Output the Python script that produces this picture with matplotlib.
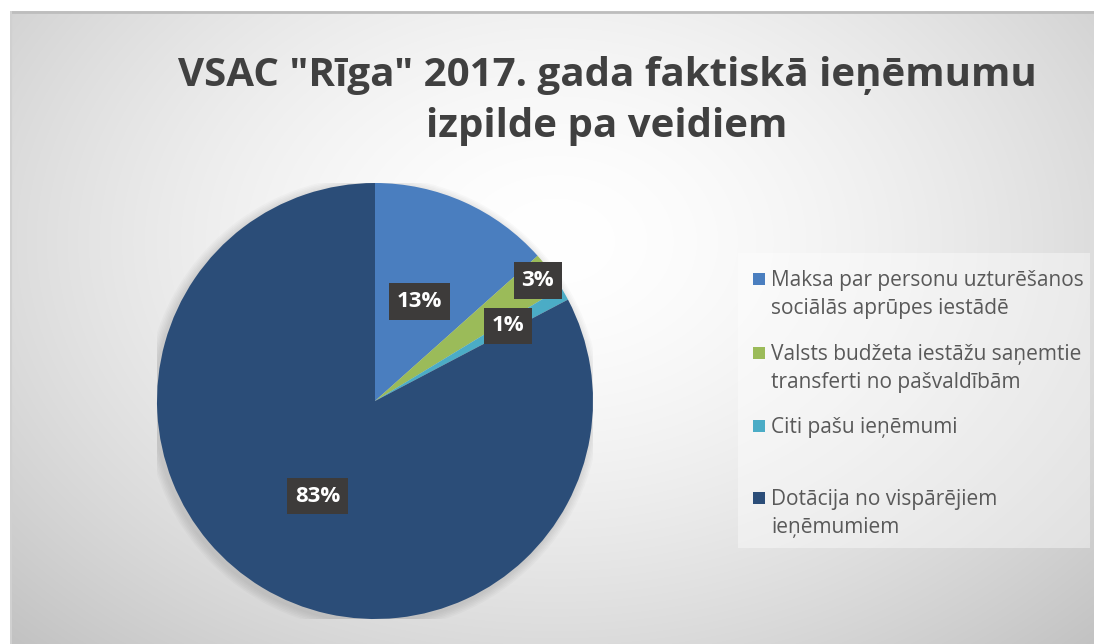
import numpy as np
import matplotlib; matplotlib.use("Agg"); import matplotlib.pyplot as plt
from matplotlib.patches import Rectangle, Circle

# data
title = 'VSAC "Rīga" 2017. gada faktiskā ieņēmumu\nizpilde pa veidiem'
labels = ["Maksa par personu uzturēšanos\nsociālās aprūpes iestādē",
          "Valsts budžeta iestāžu saņemtie\ntransferti no pašvaldībām",
          "Citi pašu ieņēmumi",
          "Dotācija no vispārējiem\nieņēmumiem"]
shares = [13.4, 2.9, 1.0, 82.7]
colors = ["#4a7ebf", "#9bbb59", "#4bacc6", "#2b4d78"]
pct_dist = [0.50, 0.93, 0.70, 0.51]   # label placement along each slice's mid-ray

W, H = 1094, 644
fig = plt.figure(figsize=(W / 100, H / 100), dpi=100)
fig.patch.set_facecolor("white")

# chart area with soft radial gradient
bg = fig.add_axes([10 / W, 0, 1 - 10 / W, 1 - 11 / H]); bg.set_axis_off()
yy, xx = np.mgrid[0:633, 0:1084]
d = np.sqrt(((xx - 545) / 650.0) ** 2 + ((yy - 230) / 470.0) ** 2)
g = np.clip(1 - 0.18 * d ** 1.6, 0, 1)
bg.imshow(np.dstack([g, g, g]), aspect="auto", extent=[0, 1, 0, 1], origin="upper")
bg.set_xlim(0, 1); bg.set_ylim(0, 1)
bg.plot([0, 1], [0.998, 0.998], color="#bdbdbd", lw=2)
bg.plot([0.001, 0.001], [0, 1], color="#d0d0d0", lw=1.5)

fig.text(607 / W, 1 - 101 / H, title, ha="center", va="center", fontsize=29,
         fontweight="bold", color="#404040", family=["Open Sans", "DejaVu Sans"],
         linespacing=1.42)

# pie
cx, cy, r = 375, 401, 218
ax = fig.add_axes([(cx - r) / W, (H - cy - r) / H, 2 * r / W, 2 * r / H])
ax.set_axis_off()
for k in range(6):
    ax.add_patch(Circle((-0.01, -0.012), 1.0 + 0.007 * (k + 1), color="black",
                        alpha=0.02, lw=0, zorder=0))
wedges, _ = ax.pie(shares, colors=colors, startangle=90, counterclock=False,
                   radius=1, wedgeprops=dict(linewidth=0))
ax.set_xlim(-1, 1); ax.set_ylim(-1, 1); ax.set_aspect("equal")
for w, v, dist in zip(wedges, shares, pct_dist):
    th = np.deg2rad((w.theta1 + w.theta2) / 2)
    ax.text(dist * np.cos(th), dist * np.sin(th), f"{round(v):.0f}%", ha="center",
            va="center", fontsize=16, fontweight="bold", color="white",
            family="Open Sans", zorder=5,
            bbox=dict(boxstyle="square,pad=0.35", fc="#3d3b3a", ec="none"))

# legend drawn by hand (Excel-style spacing)
fig.patches.append(Rectangle((738 / W, 1 - 548 / H), 352 / W, 295 / H,
                             transform=fig.transFigure, fc="white", alpha=0.4,
                             ec="none"))
first_base = [286, 360, 433, 505]
for lab, col, yb in zip(labels, colors, first_base):
    fig.patches.append(Rectangle((753 / W, 1 - (yb - 1) / H), 12 / W, 12 / H,
                                 transform=fig.transFigure, fc=col, ec="none"))
    for i, line in enumerate(lab.split("\n")):
        fig.text(771 / W, 1 - (yb + 28 * i) / H, line, ha="left", va="baseline",
                 fontsize=15, color="#595959", family="Open Sans")

fig.savefig("out.png", dpi=100)
